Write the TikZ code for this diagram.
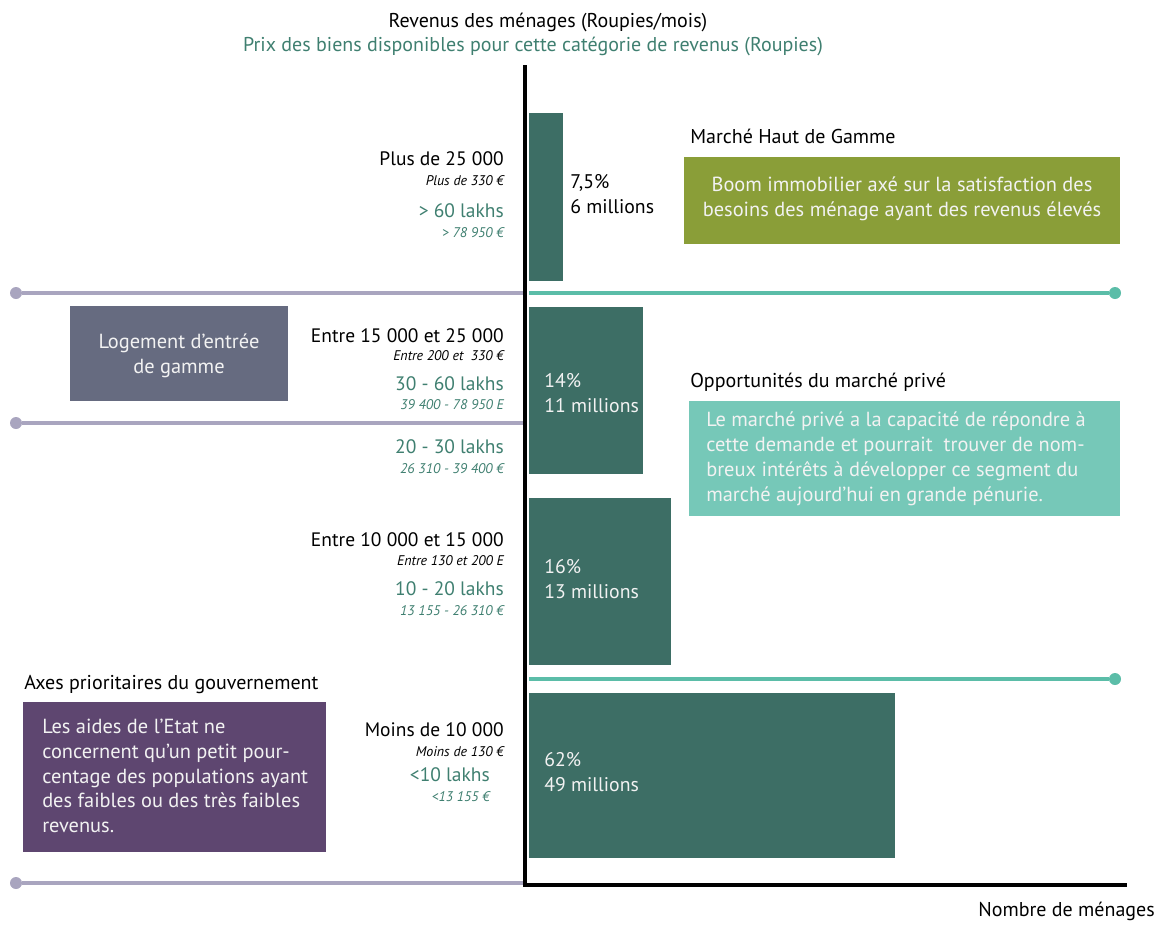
\documentclass[tikz,border=0pt]{standalone}
\usepackage{fontspec}
\setmainfont{PT Sans}
\usetikzlibrary{fit}
\definecolor{barcol}{HTML}{3D6E65}
\definecolor{lakh}{HTML}{3F7F70}
\definecolor{gline}{HTML}{A9A5BF}
\definecolor{tline}{HTML}{5BBDA8}
\definecolor{olive}{HTML}{8A9E38}
\definecolor{tealbox}{HTML}{76C8B8}
\definecolor{slate}{HTML}{666B80}
\definecolor{plum}{HTML}{5E4670}
\definecolor{boxtext}{HTML}{F2F2F2}
\begin{document}
\begin{tikzpicture}[x=0.75pt,y=-0.75pt,
  big/.style={inner sep=0pt,font=\fontsize{15}{18}\selectfont},
  lbig/.style={inner sep=0pt,font=\fontsize{14.6}{18}\selectfont},
  small/.style={inner sep=0pt,font=\fontsize{10.5}{12}\selectfont\itshape},
  rlab/.style={lbig,anchor=mid east},
  rsm/.style={small,anchor=mid east},
  blab/.style={inner sep=0pt,anchor=west,align=left,text=white,font=\fontsize{14.8}{19}\selectfont},
  area/.style={inner sep=0pt,draw=none},
  boxtxt/.style={inner sep=0pt,text=boxtext,font=\fontsize{15.3}{18.6}\selectfont},
  dotg/.style={circle,fill=gline,inner sep=0pt,minimum size=9pt},
  dott/.style={circle,fill=tline,inner sep=0pt,minimum size=9pt},
  lineg/.style={draw=gline,line width=3pt},
  linet/.style={draw=tline,line width=3pt},
  axis/.style={draw=black,line width=3pt}]
\useasboundingbox (0,0) rectangle (1164,925);

% titles
\node[big] (t1) at (548,22) {Revenus des ménages (Roupies/mois)};
\node[big,text=lakh] (t2) at (533,46) {Prix des biens disponibles pour cette catégorie de revenus (Roupies)};
\node[big,anchor=mid east] (t3) at (1155,913) {Nombre de ménages};

% bars
\node[area,fill=barcol,fit={(529,113) (563,281)}] (b1) {};
\node[area,fill=barcol,fit={(529,307) (643,474)}] (b2) {};
\node[area,fill=barcol,fit={(529,498) (671,665)}] (b3) {};
\node[area,fill=barcol,fit={(529,693) (895,858)}] (b4) {};

% separator lines
\node[dotg] (g1) at (16,293) {};
\coordinate (a1) at (525,293);
\draw[lineg] (g1) -- (a1);
\coordinate (a1r) at (529,293);
\node[dott] (d1) at (1115,293) {};
\draw[linet] (a1r) -- (d1);
\node[dotg] (g2) at (16,423) {};
\coordinate (a2) at (525,423);
\draw[lineg] (g2) -- (a2);
\coordinate (a3r) at (529,679);
\node[dott] (d3) at (1115,679) {};
\draw[linet] (a3r) -- (d3);
\node[dotg] (g4) at (16,883) {};
\coordinate (a4) at (525,883);
\draw[lineg] (g4) -- (a4);

% axes
\coordinate (top) at (525,65);
\coordinate (orig) at (525,884.5);
\coordinate (xend) at (1127,884.5);
\draw[axis] (top) -- (orig);
\draw[axis] ([xshift=-1.5pt]orig) -- (xend);

% left labels
\node[rlab] (l1a) at (504,162) {Plus de 25 000};
\node[rsm] (l1b) at (504,182) {Plus de 330 €};
\node[rlab,text=lakh] (l1c) at (504,214) {> 60 lakhs};
\node[rsm,text=lakh] (l1d) at (504,234) {> 78 950 €};

\node[rlab] (l2a) at (504,339) {Entre 15 000 et 25 000};
\node[rsm] (l2b) at (504,357) {Entre 200 et~ 330 €};
\node[rlab,text=lakh] (l2c) at (504,387) {30 - 60 lakhs};
\node[rsm,text=lakh] (l2d) at (504,406) {39 400 - 78 950 E};
\node[rlab,text=lakh] (l2e) at (504,450) {20 - 30 lakhs};
\node[rsm,text=lakh] (l2f) at (504,470) {26 310 - 39 400 €};

\node[rlab] (l3a) at (504,543) {Entre 10 000 et 15 000};
\node[rsm] (l3b) at (504,562) {Entre 130 et 200 E};
\node[rlab,text=lakh] (l3c) at (504,592) {10 - 20 lakhs};
\node[rsm,text=lakh] (l3d) at (504,612) {13 155 - 26 310 €};

\node[rlab] (l4a) at (504,733) {Moins de 10 000};
\node[rsm] (l4b) at (504,753) {Moins de 130 €};
\node[rlab,text=lakh] (l4c) at (490,778) {<10 lakhs};
\node[rsm,text=lakh] (l4d) at (490,798) {<13 155 €};

% bar labels
\node[blab,text=black] (p1) at (570,194) {7,5\%\\6 millions};
\node[blab,text=boxtext] (p2) at (544,393) {14\%\\11 millions};
\node[blab,text=boxtext] (p3) at (544,579) {16\%\\13 millions};
\node[blab,text=boxtext] (p4) at (544,772) {62\%\\49 millions};

% right boxes
\node[big,anchor=mid west] (h1) at (690,140) {Marché Haut de Gamme};
\node[area,fill=olive,fit={(684,157) (1120,244)}] (bx1) {};
\node[boxtxt,align=center] (bx1t) at (902,199) {Boom immobilier axé sur la satisfaction des\\besoins des ménage ayant des revenus élevés};

\node[big,anchor=mid west] (h2) at (690,384) {Opportunités du marché privé};
\node[area,fill=tealbox,fit={(689,401) (1120,516)}] (bx2) {};
\node[boxtxt,align=left,anchor=west] (bx2t) at (706,459) {Le marché privé a la capacité de répondre à\\cette demande et pourrait~ trouver de nom-\\breux intérêts à développer ce segment du\\marché aujourd’hui en grande pénurie.};

% left boxes
\node[area,fill=slate,fit={(70,306) (288,401)}] (bx3) {};
\node[boxtxt,align=center] (bx3t) at (179,356) {Logement d’entrée\\de gamme};

\node[big,anchor=mid west] (h4) at (24,686) {Axes prioritaires du gouvernement};
\node[area,fill=plum,fit={(23,702) (326,852)}] (bx4) {};
\node[boxtxt,align=left,anchor=west] (bx4t) at (42,776) {Les aides de l’Etat ne\\concernent qu’un petit pour-\\centage des populations ayant\\des faibles ou des très faibles\\revenus.};
\end{tikzpicture}
\end{document}
